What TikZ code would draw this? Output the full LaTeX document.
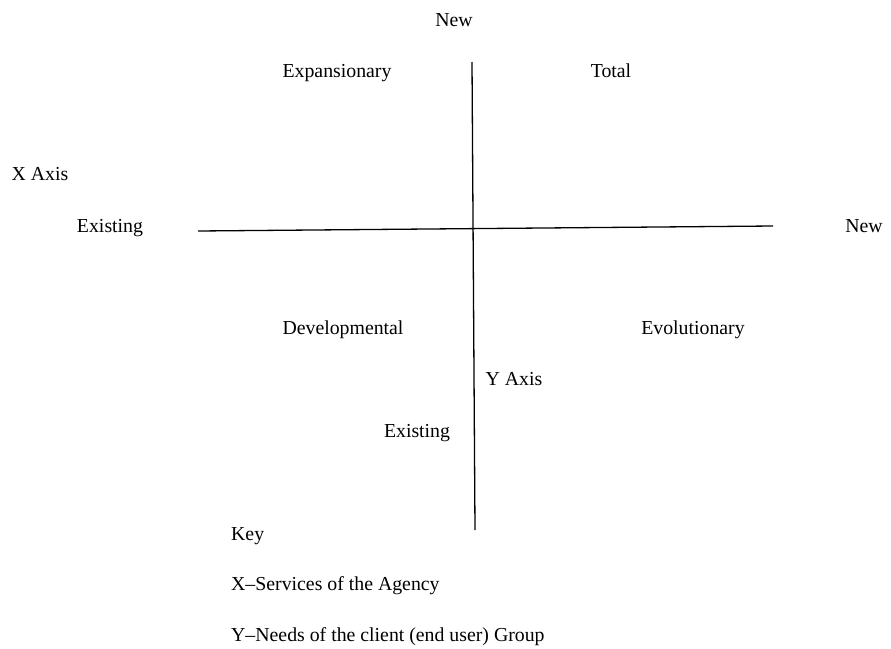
\documentclass[tikz,border=0pt]{standalone}
\usepackage{fontspec}
\setmainfont{Liberation Serif}
\tikzset{lbl/.style={inner sep=0pt, text height=0.7em, text depth=0.22em, font=\fontsize{19.8}{24}\selectfont}, keyline/.style={lbl, anchor=west}, axis/.style={line width=1.3pt}}
\begin{document}
\begin{tikzpicture}[x=1pt, y=-1pt]
      \useasboundingbox (0,0) rectangle (891,648);
      \coordinate (xl) at (198,231);
      \coordinate (xr) at (773,226);
      \coordinate (yt) at (472,62);
      \coordinate (yb) at (475,530);
      \draw [axis] (xl) -- (xr);
      \draw [axis] (yt) -- (yb);
      \node [lbl] (ynew) at (454,24) {New};
      \node [lbl] (exp) at (337,75) {Expansionary};
      \node [lbl] (tot) at (611,75) {Total};
      \node [lbl] (xaxis) at (40,178) {X Axis};
      \node [lbl] (xold) at (110,230) {Existing};
      \node [lbl] (xnew) at (864,230) {New};
      \node [lbl] (dev) at (343,332) {Developmental};
      \node [lbl] (evo) at (693,332) {Evolutionary};
      \node [lbl] (yaxis) at (514,383) {Y Axis};
      \node [lbl] (yold) at (417,435) {Existing};
      \node [keyline] (key) at (231,538) {Key};
      \node [keyline] (keyx) at (231,588) {X–Services of the Agency};
      \node [keyline] (keyy) at (231,639) {Y–Needs of the client (end user) Group};
    \end{tikzpicture}
\end{document}
